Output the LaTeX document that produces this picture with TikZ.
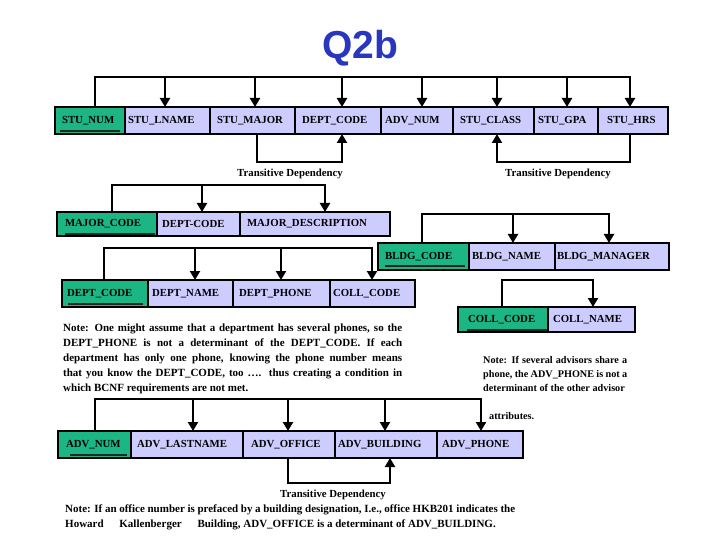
\documentclass[tikz,border=0pt]{standalone}
\usepackage{fontspec}
\setmainfont{Liberation Serif}
\newfontfamily\titlefam{Liberation Sans}
\usetikzlibrary{arrows.meta}
\definecolor{keygreen}{RGB}{28,182,132}
\definecolor{attlav}{RGB}{204,204,255}
\definecolor{titleblue}{RGB}{40,55,190}
\newcommand\cellfnt{\bfseries\fontsize{10.8bp}{13bp}\selectfont}
\newcommand\tdfnt{\bfseries\fontsize{10.8bp}{12bp}\selectfont}
\newcommand\mkcell[8]{%
  \pgfmathsetmacro\cellW{#4-#3}%
  \pgfmathsetmacro\cellH{#6-#5}%
  \pgfmathsetmacro\cellT{#4-#3-2*#7}%
  \node[#2, anchor=north west, minimum width=\cellW bp, minimum height=\cellH bp,
        inner xsep=#7bp, inner ysep=0pt, text width=\cellT bp] (#1) at (#3,#5) {#8};}
\tikzset{
  cellbase/.style={draw=black, line width=1.8bp, rectangle, font=\cellfnt, align=left, outer sep=0pt},
  keycell/.style={cellbase, fill=keygreen},
  attcell/.style={cellbase, fill=attlav},
  bus/.style={line width=2.4bp, line join=miter},
  arr/.style={bus, -{Triangle[width=10bp,length=9bp]}},
  tdlabel/.style={font=\tdfnt, inner sep=0pt, anchor=base},
  keyline/.style={line width=2.2bp, black!85},
  notetext/.style={font=\bfseries\fontsize{11bp}{15bp}\selectfont, inner sep=0pt, align=justify, anchor=north west},
}
\begin{document}
\begin{tikzpicture}[x=1bp,y=-1bp]
\useasboundingbox (0,0) rectangle (720,540);
% title
\node[font=\titlefam\bfseries\fontsize{39bp}{40bp}\selectfont, text=titleblue, anchor=base, inner sep=0pt] (title) at (360,59) {Q2b};

% ---------- STUDENT table
\mkcell{stunum}{keycell}{55}{125}{107}{134}{7}{STU\_NUM}
\mkcell{stulname}{attcell}{125}{210}{107}{134}{3}{STU\_LNAME}
\mkcell{stumajor}{attcell}{210}{295}{107}{134}{7}{STU\_MAJOR}
\mkcell{deptcodeA}{attcell}{295}{381}{107}{134}{7}{DEPT\_CODE}
\mkcell{advnumA}{attcell}{381}{453}{107}{134}{4}{ADV\_NUM}
\mkcell{stuclass}{attcell}{453}{534}{107}{134}{7}{STU\_CLASS}
\mkcell{stugpa}{attcell}{534}{598}{107}{134}{4}{STU\_GPA}
\mkcell{stuhrs}{attcell}{598}{668}{107}{134}{9}{STU\_HRS}
\draw[keyline] (60,131) -- (120,131);
\draw[arr] (95,0 |- stunum.north) -- (95,77) -- (630,77) -- (630,0 |- stuhrs.north);
\draw[arr] (165,77) -- (165,0 |- stulname.north);
\draw[arr] (255,77) -- (255,0 |- stumajor.north);
\draw[arr] (342,77) -- (342,0 |- deptcodeA.north);
\draw[arr] (422,77) -- (422,0 |- advnumA.north);
\draw[arr] (497,77) -- (497,0 |- stuclass.north);
\draw[arr] (567,77) -- (567,0 |- stugpa.north);
\draw[arr] (257,0 |- stumajor.south) -- (257,162) -- (342,162) -- (342,0 |- deptcodeA.south);
\draw[arr] (630,0 |- stuhrs.south) -- (630,162) -- (497,162) -- (497,0 |- stuclass.south);
\node[tdlabel] (tdA) at (290,176.5) {Transitive Dependency};
\node[tdlabel] (tdB) at (558,176.5) {Transitive Dependency};

% ---------- MAJOR table
\mkcell{majorcode}{keycell}{57}{157}{212}{236}{8}{MAJOR\_CODE}
\mkcell{deptcodeB}{attcell}{157}{240}{212}{236}{5}{DEPT-CODE}
\mkcell{majordesc}{attcell}{240}{390}{212}{236}{7}{MAJOR\_DESCRIPTION}
\draw[keyline] (65,234) -- (155,234);
\draw[arr] (112,0 |- majorcode.north) -- (112,185) -- (325,185) -- (325,0 |- majordesc.north);
\draw[arr] (202,185) -- (202,0 |- deptcodeB.north);

% ---------- DEPARTMENT table
\mkcell{deptcodeC}{keycell}{62}{148}{280}{307}{5}{DEPT\_CODE}
\mkcell{deptname}{attcell}{148}{233}{280}{307}{4}{DEPT\_NAME}
\mkcell{deptphone}{attcell}{233}{330}{280}{307}{6}{DEPT\_PHONE}
\mkcell{collcodeA}{attcell}{330}{415}{280}{307}{3}{COLL\_CODE}
\draw[keyline] (68,304) -- (143,304);
\draw[arr] (104,0 |- deptcodeC.north) -- (104,248) -- (372,248) -- (372,0 |- collcodeA.north);
\draw[arr] (195,248) -- (195,0 |- deptname.north);
\draw[arr] (281,248) -- (281,0 |- deptphone.north);

% ---------- BUILDING table
\mkcell{bldgcode}{keycell}{378}{469}{243}{270}{7}{BLDG\_CODE}
\mkcell{bldgname}{attcell}{469}{555}{243}{270}{3}{BLDG\_NAME}
\mkcell{bldgmgr}{attcell}{555}{669}{243}{270}{2}{BLDG\_MANAGER}
\draw[keyline] (385,266) -- (465,266);
\draw[arr] (422,0 |- bldgcode.north) -- (422,214) -- (609,214) -- (609,0 |- bldgmgr.north);
\draw[arr] (513,214) -- (513,0 |- bldgname.north);

% ---------- COLLEGE table
\mkcell{collcodeB}{keycell}{458}{548}{307}{332}{10}{COLL\_CODE}
\mkcell{collname}{attcell}{548}{635}{307}{332}{5}{COLL\_NAME}
\draw[keyline] (467,330) -- (547,330);
\draw[arr] (502,0 |- collcodeB.north) -- (502,280) -- (593,280) -- (593,0 |- collname.north);

% ---------- notes
\node[notetext, text width=339bp] (noteA) at (63,323.5) {Note: One might assume that a department has several phones, so the\linebreak
DEPT\_PHONE is not a determinant of the DEPT\_CODE. If each\linebreak
department has only one phone, knowing the phone number means\linebreak
that you know the DEPT\_CODE, too …. thus creating a condition in\linebreak
which BCNF requirements are not met.};
\node[notetext, font=\bfseries\fontsize{10.2bp}{14bp}\selectfont, text width=144bp] (noteB) at (483,356.5) {\parfillskip=0pt Note: If several advisors share a\linebreak
phone, the ADV\_PHONE is not a\linebreak
determinant of the other advisor};
\node[tdlabel, font=\bfseries\fontsize{10.2bp}{12bp}\selectfont, anchor=base west] (noteBend) at (489,419.5) {attributes.};

% ---------- ADVISOR table
\mkcell{advnumB}{keycell}{58}{131}{431}{458}{8}{ADV\_NUM}
\mkcell{advlast}{attcell}{131}{243}{431}{458}{6}{ADV\_LASTNAME}
\mkcell{advoffice}{attcell}{243}{335}{431}{458}{8}{ADV\_OFFICE}
\mkcell{advbldg}{attcell}{335}{437}{431}{458}{3}{ADV\_BUILDING}
\mkcell{advphone}{attcell}{437}{523}{431}{458}{5}{ADV\_PHONE}
\draw[keyline] (70,455) -- (127,455);
\draw[arr] (95,0 |- advnumB.north) -- (95,399) -- (481,399) -- (481,0 |- advphone.north);
\draw[arr] (193,399) -- (193,0 |- advlast.north);
\draw[arr] (288,399) -- (288,0 |- advoffice.north);
\draw[arr] (385,399) -- (385,0 |- advbldg.north);
\draw[arr] (288,0 |- advoffice.south) -- (288,483) -- (390,483) -- (390,0 |- advbldg.south);
\node[tdlabel] (tdC) at (333,497.5) {Transitive Dependency};
\node[notetext, text width=450bp] (noteC) at (65,505) {Note: If an office number is prefaced by a building designation, I.e., office HKB201 indicates the\linebreak
Howard\hspace{13bp} Kallenberger\hspace{13bp} Building, ADV\_OFFICE is a determinant of ADV\_BUILDING.};
\end{tikzpicture}
\end{document}
